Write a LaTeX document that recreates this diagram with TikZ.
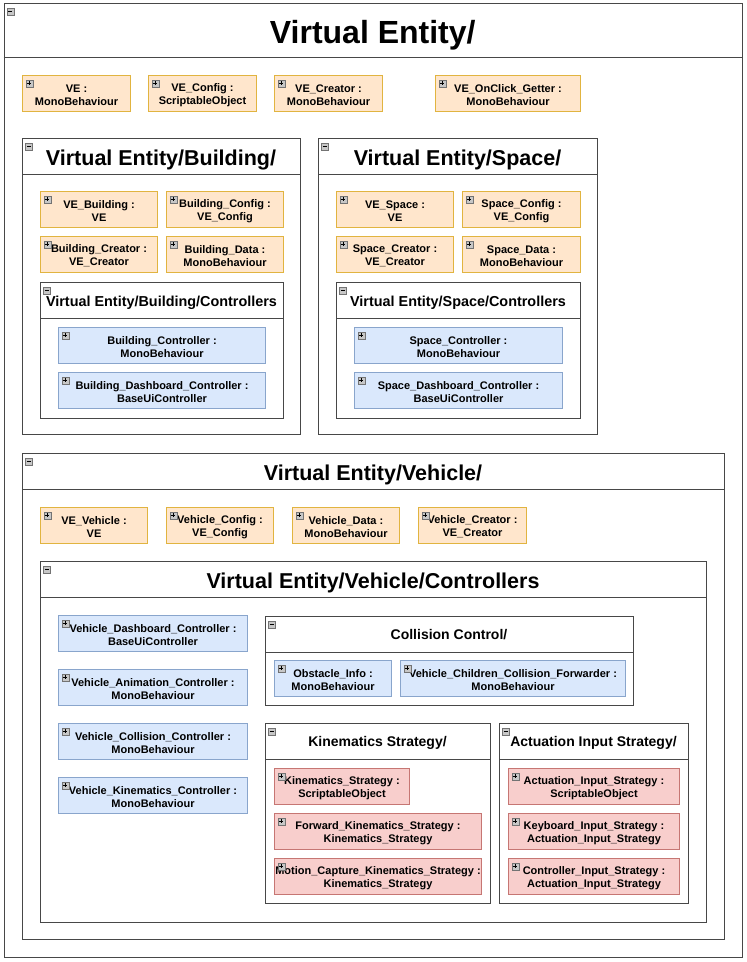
\documentclass[tikz,border=0pt]{standalone}
\usepackage{fontspec}
\setmainfont{Liberation Sans}
\definecolor{orF}{HTML}{FFE6CC}\definecolor{orD}{HTML}{D79B00}
\definecolor{blF}{HTML}{DAE8FC}\definecolor{blD}{HTML}{6C8EBF}
\definecolor{rdF}{HTML}{F8CECC}\definecolor{rdD}{HTML}{B85450}
\tikzset{
  pkgbox/.style={draw=black!72, line width=1pt, fill=white, inner sep=0pt},
  pkgline/.style={draw=black!72, line width=1pt},
  itembase/.style={line width=1pt, inner sep=0pt},
  itemtext/.style={inner sep=0pt, align=center, font=\fontsize{11}{13}\selectfont\bfseries},
  orbox/.style={itembase, draw=orD!75, fill=orF},
  blbox/.style={itembase, draw=blD!80, fill=blF},
  rdbox/.style={itembase, draw=rdD!80, fill=rdF},
  iconbase/.style={draw=black!55, fill=black!22, minimum width=7pt, minimum height=7pt, inner sep=0pt, anchor=north west, line width=0.6pt},
  iconminus/.style={iconbase, path picture={\draw[black, line width=0.9pt] ([xshift=1.5pt]path picture bounding box.west) -- ([xshift=-1.5pt]path picture bounding box.east);}},
  iconplus/.style={iconbase, path picture={\draw[black, line width=0.9pt] ([xshift=1.5pt]path picture bounding box.west) -- ([xshift=-1.5pt]path picture bounding box.east) ([yshift=-1.5pt]path picture bounding box.north) -- ([yshift=1.5pt]path picture bounding box.south);}},
}
% name style x y w h text
\newcommand\ibox[7]{%
  \node[#2, minimum width=#5pt, minimum height=#6pt, anchor=north west] (#1) at (#3,#4) {};
  \node[itemtext] (#1-txt) at ([yshift=-1.5pt]#1.center) {#7};
  \node[iconplus] (#1-ic) at ([xshift=3.5pt,yshift=-4.5pt]#1.north west) {};
}
% name x1 y1 x2 y2 headery title fontsize
\newcommand\pkg[8]{%
  \pgfmathsetmacro\pkgw{#4-#2}\pgfmathsetmacro\pkgh{#5-#3}%
  \pgfmathsetmacro\pkgb{(#3+#6)/2+0.42*#8}%
  \node[pkgbox, minimum width=\pkgw pt, minimum height=\pkgh pt, anchor=north west] (#1) at (#2,#3) {};
  \draw[pkgline] (#1.west |- 0,#6) -- (#1.east |- 0,#6);
  \node[font=\fontsize{#8}{#8}\selectfont\bfseries, inner sep=0pt, anchor=base] (#1-t) at ({(#2+#4)/2},\pkgb) {#7};
  \node[iconminus] (#1-ic) at ([xshift=3pt,yshift=-4.5pt]#1.north west) {};
}
\begin{document}
\begin{tikzpicture}[x=1pt,y=-1pt]
\useasboundingbox (0,0) rectangle (747,962);
% outer
\pkg{ve}{3.5}{3}{742}{957}{57}{Virtual Entity/}{32}
\ibox{veA}{orbox}{22}{75}{108}{36}{VE :\\MonoBehaviour}
\ibox{veB}{orbox}{148}{75}{108}{36}{VE\_Config :\\ScriptableObject}
\ibox{veC}{orbox}{274}{75}{108}{36}{VE\_Creator :\\MonoBehaviour}
\ibox{veD}{orbox}{435}{75}{145}{36}{VE\_OnClick\_Getter :\\MonoBehaviour}
% building
\pkg{bld}{22}{138}{300}{434}{174}{Virtual Entity/Building/}{21.5}
\ibox{bA}{orbox}{40}{191}{117}{36}{VE\_Building :\\VE}
\ibox{bB}{orbox}{166}{191}{117}{36}{Building\_Config :\\VE\_Config}
\ibox{bC}{orbox}{40}{236}{117}{36}{Building\_Creator :\\VE\_Creator}
\ibox{bD}{orbox}{166}{236}{117}{36}{Building\_Data :\\MonoBehaviour}
\pkg{bldc}{40}{282}{283}{418}{318}{Virtual Entity/Building/Controllers}{14.4}
\ibox{bE}{blbox}{58}{327}{207}{36}{Building\_Controller :\\MonoBehaviour}
\ibox{bF}{blbox}{58}{372}{207}{36}{Building\_Dashboard\_Controller :\\BaseUiController}
% space
\pkg{spc}{318}{138}{597}{434}{174}{Virtual Entity/Space/}{21.5}
\ibox{sA}{orbox}{336}{191}{117}{36}{VE\_Space :\\VE}
\ibox{sB}{orbox}{462}{191}{118}{36}{Space\_Config :\\VE\_Config}
\ibox{sC}{orbox}{336}{236}{117}{36}{Space\_Creator :\\VE\_Creator}
\ibox{sD}{orbox}{462}{236}{118}{36}{Space\_Data :\\MonoBehaviour}
\pkg{spcc}{336}{282}{580}{418}{318}{Virtual Entity/Space/Controllers}{14.4}
\ibox{sE}{blbox}{354}{327}{208}{36}{Space\_Controller :\\MonoBehaviour}
\ibox{sF}{blbox}{354}{372}{208}{36}{Space\_Dashboard\_Controller :\\BaseUiController}
% vehicle
\pkg{veh}{22}{453}{724}{939}{489}{Virtual Entity/Vehicle/}{21.5}
\ibox{vA}{orbox}{40}{507}{107}{36}{VE\_Vehicle :\\VE}
\ibox{vB}{orbox}{166}{507}{107}{36}{Vehicle\_Config :\\VE\_Config}
\ibox{vC}{orbox}{292}{507}{107}{36}{Vehicle\_Data :\\MonoBehaviour}
\ibox{vD}{orbox}{418}{507}{108}{36}{Vehicle\_Creator :\\VE\_Creator}
\pkg{vehc}{40}{561}{706}{922}{597}{Virtual Entity/Vehicle/Controllers}{21.5}
\ibox{vE}{blbox}{58}{615}{189}{36}{Vehicle\_Dashboard\_Controller :\\BaseUiController}
\ibox{vF}{blbox}{58}{669}{189}{36}{Vehicle\_Animation\_Controller :\\MonoBehaviour}
\ibox{vG}{blbox}{58}{723}{189}{36}{Vehicle\_Collision\_Controller :\\MonoBehaviour}
\ibox{vH}{blbox}{58}{777}{189}{36}{Vehicle\_Kinematics\_Controller :\\MonoBehaviour}
% collision
\pkg{col}{265}{616}{633}{705}{652}{Collision Control/}{14}
\ibox{cA}{blbox}{274}{660}{117}{36}{Obstacle\_Info :\\MonoBehaviour}
\ibox{cB}{blbox}{400}{660}{225}{36}{Vehicle\_Children\_Collision\_Forwarder :\\MonoBehaviour}
% kinematics
\pkg{kin}{265}{723}{490}{903}{759}{Kinematics Strategy/}{14}
\ibox{kA}{rdbox}{274}{768}{135}{36}{Kinematics\_Strategy :\\ScriptableObject}
\ibox{kB}{rdbox}{274}{813}{207}{36}{Forward\_Kinematics\_Strategy :\\Kinematics\_Strategy}
\ibox{kC}{rdbox}{274}{858}{207}{36}{Motion\_Capture\_Kinematics\_Strategy :\\Kinematics\_Strategy}
% actuation
\pkg{act}{499}{723}{688}{903}{759}{Actuation Input Strategy/}{14}
\ibox{aA}{rdbox}{508}{768}{171}{36}{Actuation\_Input\_Strategy :\\ScriptableObject}
\ibox{aB}{rdbox}{508}{813}{171}{36}{Keyboard\_Input\_Strategy :\\Actuation\_Input\_Strategy}
\ibox{aC}{rdbox}{508}{858}{171}{36}{Controller\_Input\_Strategy :\\Actuation\_Input\_Strategy}
\end{tikzpicture}
\end{document}
